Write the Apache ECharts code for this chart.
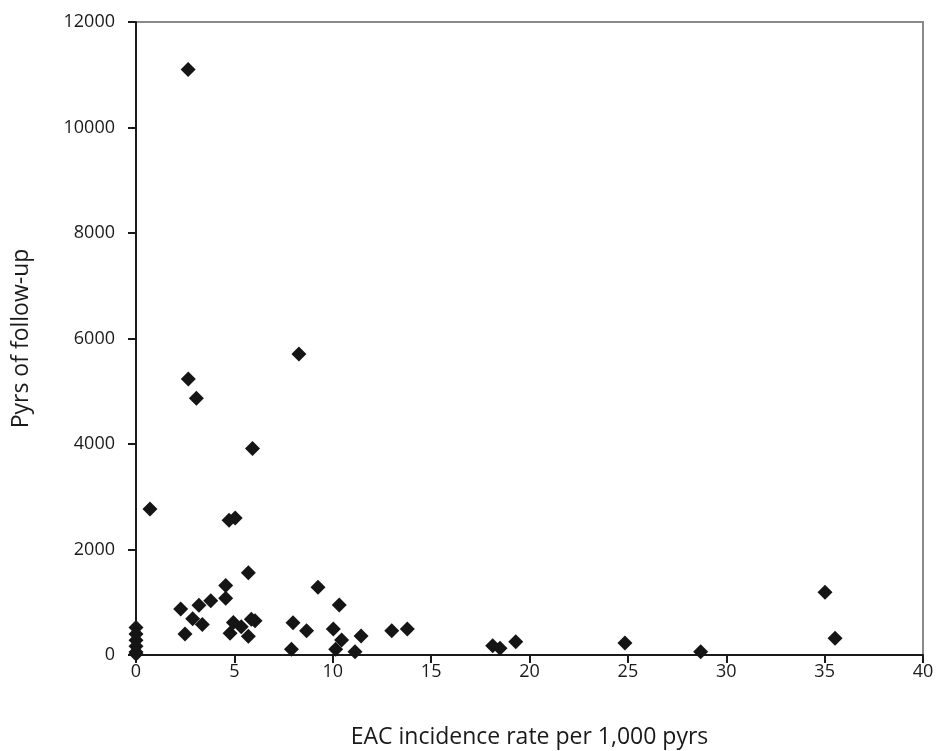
<!DOCTYPE html>
<html>
<head>
<meta charset="utf-8">
<script src="https://cdn.jsdelivr.net/npm/echarts@6/dist/echarts.min.js"></script>
<style>html,body{margin:0;padding:0;background:#fff}#c{width:936px;height:751px}</style>
</head>
<body>
<div id="c"></div>
<script>
const incidenceRate = [2.65, 8.28, 2.66, 3.07, 5.92, 0.71, 4.73, 5.04, 5.71, 9.25, 35.02, 4.56, 4.56, 3.8, 3.2, 2.27, 2.88, 3.37, 2.49, 4.95, 4.78, 5.35, 5.86, 6.05, 5.71, 7.98, 8.67, 7.9, 10.33, 10.03, 10.45, 10.15, 11.44, 11.13, 13.0, 13.79, 18.13, 18.5, 19.3, 24.85, 28.7, 35.53, 0, 0, 0, 0, 0, 0];
const followUpPyrs = [11100, 5706, 5230, 4865, 3915, 2770, 2553, 2595, 1560, 1285, 1190, 1318, 1077, 1030, 942, 872, 688, 578, 398, 616, 411, 537, 680, 648, 355, 612, 461, 108, 948, 493, 284, 108, 360, 63, 461, 493, 177, 127, 253, 227, 60, 316, 520, 400, 280, 165, 55, 20];
const xTicks = [0, 5, 10, 15, 20, 25, 30, 35, 40];
const yTicks = [0, 2000, 4000, 6000, 8000, 10000, 12000];

const points = incidenceRate.map((x, i) => [x, followUpPyrs[i]]);
const font = '"Open Sans", "Noto Sans", sans-serif';
const chart = echarts.init(document.getElementById('c'), null, {renderer: 'canvas'});
chart.setOption({
  animation: false,
  backgroundColor: '#ffffff',
  grid: {left: 136, right: 13, top: 22, bottom: 96, show: true, borderColor: '#8a8a8a', borderWidth: 2, backgroundColor: 'transparent', containLabel: false, outerBoundsMode: 'none'},
  xAxis: {
    type: 'value', min: xTicks[0], max: xTicks[xTicks.length - 1], interval: 5,
    name: 'EAC incidence rate per 1,000 pyrs', nameLocation: 'middle', nameGap: 71,
    nameTextStyle: {fontFamily: font, fontSize: 23, color: '#1a1a1a'},
    axisLine: {show: true, lineStyle: {color: '#1a1a1a', width: 2}},
    axisTick: {show: true, inside: false, length: 8, lineStyle: {color: '#1a1a1a', width: 2}},
    axisLabel: {fontFamily: font, fontSize: 18, color: '#1a1a1a', margin: 8, formatter: v => String(v)},
    splitLine: {show: false}
  },
  yAxis: {
    type: 'value', min: yTicks[0], max: yTicks[yTicks.length - 1], interval: 2000,
    name: 'Pyrs of follow-up', nameLocation: 'middle', nameGap: 103, nameRotate: 90,
    nameTextStyle: {fontFamily: font, fontSize: 23, color: '#1a1a1a'},
    axisLine: {show: true, lineStyle: {color: '#1a1a1a', width: 2}},
    axisTick: {show: true, inside: false, length: 8, lineStyle: {color: '#1a1a1a', width: 2}},
    axisLabel: {fontFamily: font, fontSize: 18, color: '#1a1a1a', margin: 21, formatter: v => String(v)},
    splitLine: {show: false}
  },
  series: [{
    type: 'scatter',
    symbol: 'diamond',
    symbolSize: 15,
    itemStyle: {color: '#151515', opacity: 1},
    data: points
  }]
});
</script>
</body>
</html>
